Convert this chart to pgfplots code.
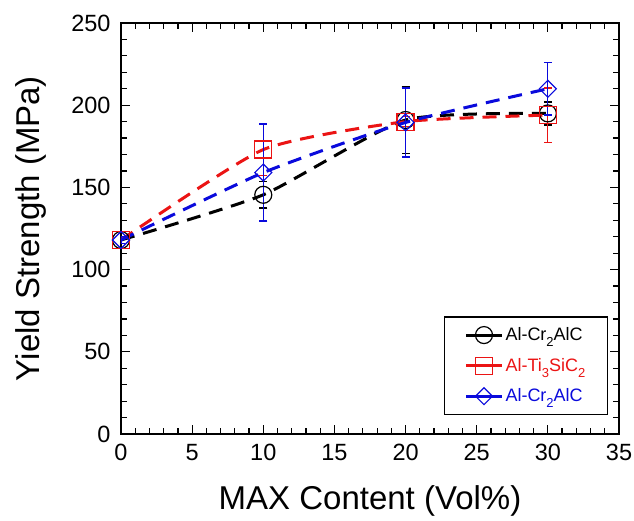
\documentclass[border=0pt]{standalone}
\usepackage{pgfplots}
\pgfplotsset{compat=1.18}
\usepackage{fontspec}
\setmainfont{Liberation Sans}
\definecolor{myred}{RGB}{235,20,20}
\definecolor{myblue}{RGB}{10,10,220}
\newcommand{\sub}[1]{\raisebox{-0.6ex}{\fontsize{13}{13}\selectfont #1}}
\begin{document}
\begin{tikzpicture}
\begin{axis}[
  scale only axis,
  width=498pt, height=411pt,
  xmin=0, xmax=35, ymin=0, ymax=250,
  xtick={0,5,...,35}, ytick={0,50,...,250},
  minor x tick num=4, minor y tick num=4,
  tick align=inside,
  major tick length=9pt, minor tick length=6pt,
  every tick/.style={line width=1.2pt, black},
  axis line style={line width=1.5pt},
  /pgf/number format/assume math mode=true,
  tick label style={font=\fontsize{23.5}{28}\selectfont},
  xticklabel style={yshift=-7pt},
  yticklabel style={xshift=-7pt},
  label style={font=\fontsize{33}{38}\selectfont},
  xlabel={MAX Content (Vol\%)},
  ylabel={Yield Strength (MPa)},
  xlabel style={yshift=-18pt},
  ylabel style={yshift=18pt},
  legend style={at={(0.978,0.287)}, anchor=north east, draw=black, line width=1.5pt,
    font=\fontsize{18}{21}\selectfont, row sep=12pt, inner xsep=20pt, inner ysep=9pt},
  legend cell align=left,
  legend image code/.code={
    \draw[solid, line width=3pt, mark repeat=2, mark phase=2] plot coordinates {(0pt,0pt) (18pt,0pt) (36pt,0pt)};
  },
  error bars/y dir=both, error bars/y explicit,
  error bars/error bar style={line width=1.2pt, solid},
  error bars/error mark options={rotate=90, mark size=4pt, line width=1.2pt, solid},
]
\addplot[black, line width=3pt, dash pattern=on 14pt off 9pt, smooth, tension=0.35,
  mark=o, mark size=8.5pt, mark options={solid, line width=1.2pt},
  error bars/error bar style={black}]
  coordinates {
  (0,118) +- (0,2)
  (10,145.5) +- (0,8)
  (20,191) +- (0,20.5)
  (30,195) +- (0,7)
  };
\addlegendentry{Al-Cr\sub{2}AlC}
\addplot[myred, line width=3pt, dash pattern=on 14pt off 9pt, smooth, tension=0.35,
  mark=square, mark size=8.5pt, mark options={solid, line width=1.2pt},
  error bars/error bar style={myred}]
  coordinates {
  (0,118) +- (0,2)
  (10,173) +- (0,16)
  (20,190) +- (0,3)
  (30,194) +- (0,16.5)
  };
\addlegendentry{\textcolor{myred}{Al-Ti\sub{3}SiC\sub{2}}}
\addplot[myblue, line width=3pt, dash pattern=on 14pt off 9pt, smooth, tension=0.35,
  mark=square, mark size=6pt, mark options={solid, line width=1.2pt, rotate=45},
  error bars/error bar style={myblue}]
  coordinates {
  (0,118) +- (0,2)
  (10,159) +- (0,29.5)
  (20,189.5) +- (0,21)
  (30,210) +- (0,16)
  };
\addlegendentry{\textcolor{myblue}{Al-Cr\sub{2}AlC}}
\end{axis}
\pgfresetboundingbox
\path[use as bounding box] ([xshift=-121pt,yshift=-87pt]current axis.south west) rectangle ([xshift=15pt,yshift=23pt]current axis.north east);
\end{tikzpicture}
\end{document}
